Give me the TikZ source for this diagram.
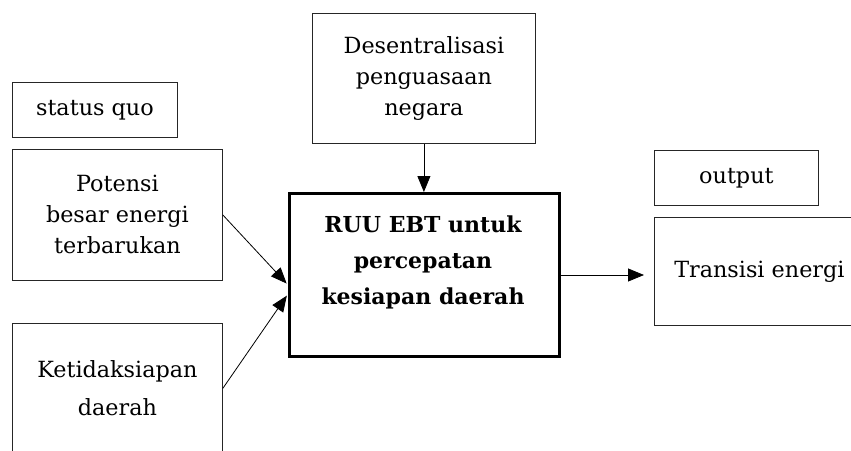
\documentclass[tikz,border=0pt]{standalone}
\usepackage{fontspec}
\setmainfont{DejaVu Serif}
\usetikzlibrary{arrows.meta}

\tikzset{
  box/.style={draw=black!85, line width=0.8pt, anchor=north west, align=center,
    inner sep=0pt, font=\fontsize{22.3}{31}\selectfont},
  mainbox/.style={draw=black, line width=3pt, anchor=north west},
  conn/.style={-{Triangle[length=16pt,width=13pt]}, line width=0.8pt},
}

\begin{document}
\begin{tikzpicture}[x=1pt,y=-1pt]
  \clip (0,0) rectangle (851,450);
  % inputs
  \node[box, minimum width=165, minimum height=55] (statusquo) at (12,82) {status quo};
  \node[box, minimum width=210, minimum height=131] (potensi) at (12,149) {Potensi\\besar energi\\terbarukan};
  \node[box, minimum width=210, minimum height=130] (ketidaksiapan) at (12,323) {Ketidaksiapan\\[7pt]daerah};
  \node[box, minimum width=223, minimum height=130] (desentralisasi) at (312,13) {Desentralisasi\\penguasaan\\negara};
  % main box
  \node[mainbox, minimum width=270, minimum height=163] (ruu) at (288,192) {};
  \node[font=\fontsize{22}{36}\selectfont\bfseries, align=center] (ruutext) at (423,262) {RUU EBT untuk\\percepatan\\kesiapan daerah};
  % outputs
  \node[box, minimum width=164, minimum height=55] (output) at (654,150) {output};
  \node[box, minimum width=210, minimum height=108] (transisi) at (654,217) {Transisi energi};

  \draw[conn, shorten >=2pt] (potensi.east) -- ([yshift=-10pt]ruu.west);
  \draw[conn, shorten >=2pt] (ketidaksiapan.east) -- ([yshift=-19pt]ruu.west);
  \draw[conn] (desentralisasi.south) -- (desentralisasi.south |- ruu.north);
  \draw[conn, shorten >=10pt] (ruu.east) -- (ruu.east -| transisi.west);
\end{tikzpicture}
\end{document}
